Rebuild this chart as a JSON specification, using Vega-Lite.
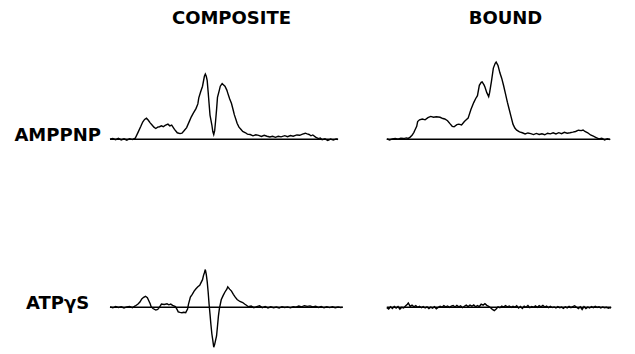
{
  "$schema": "https://vega.github.io/schema/vega-lite/v6.json",
  "padding": {"left": 14, "top": 10, "right": 0, "bottom": 0},
  "background": "white",
  "data": {"values": [
    {"r":"AMPPNP","c":"COMPOSITE","x":0,"y":0},{"r":"AMPPNP","c":"COMPOSITE","x":3,"y":0.8},{"r":"AMPPNP","c":"COMPOSITE","x":6,"y":-0.5},{"r":"AMPPNP","c":"COMPOSITE","x":9,"y":1},{"r":"AMPPNP","c":"COMPOSITE","x":12,"y":-0.8},{"r":"AMPPNP","c":"COMPOSITE","x":15,"y":0.5},{"r":"AMPPNP","c":"COMPOSITE","x":18,"y":-1},{"r":"AMPPNP","c":"COMPOSITE","x":21,"y":0.6},{"r":"AMPPNP","c":"COMPOSITE","x":24,"y":-0.4},{"r":"AMPPNP","c":"COMPOSITE","x":27,"y":1.2},{"r":"AMPPNP","c":"COMPOSITE","x":30,"y":8},{"r":"AMPPNP","c":"COMPOSITE","x":33,"y":15},{"r":"AMPPNP","c":"COMPOSITE","x":35,"y":20},{"r":"AMPPNP","c":"COMPOSITE","x":37,"y":23},{"r":"AMPPNP","c":"COMPOSITE","x":39,"y":24.5},{"r":"AMPPNP","c":"COMPOSITE","x":41,"y":22},{"r":"AMPPNP","c":"COMPOSITE","x":43,"y":19},{"r":"AMPPNP","c":"COMPOSITE","x":45,"y":16.5},{"r":"AMPPNP","c":"COMPOSITE","x":47,"y":14},{"r":"AMPPNP","c":"COMPOSITE","x":49,"y":12.5},{"r":"AMPPNP","c":"COMPOSITE","x":51,"y":14},{"r":"AMPPNP","c":"COMPOSITE","x":53,"y":14.5},{"r":"AMPPNP","c":"COMPOSITE","x":55,"y":15.5},{"r":"AMPPNP","c":"COMPOSITE","x":57,"y":14.5},{"r":"AMPPNP","c":"COMPOSITE","x":59,"y":16},{"r":"AMPPNP","c":"COMPOSITE","x":62,"y":17.5},{"r":"AMPPNP","c":"COMPOSITE","x":64,"y":15.5},{"r":"AMPPNP","c":"COMPOSITE","x":66,"y":16.5},{"r":"AMPPNP","c":"COMPOSITE","x":69,"y":11.5},{"r":"AMPPNP","c":"COMPOSITE","x":72,"y":7.5},{"r":"AMPPNP","c":"COMPOSITE","x":75,"y":6.5},{"r":"AMPPNP","c":"COMPOSITE","x":77,"y":7},{"r":"AMPPNP","c":"COMPOSITE","x":79,"y":9.5},{"r":"AMPPNP","c":"COMPOSITE","x":82,"y":13.5},{"r":"AMPPNP","c":"COMPOSITE","x":85,"y":21},{"r":"AMPPNP","c":"COMPOSITE","x":87,"y":26},{"r":"AMPPNP","c":"COMPOSITE","x":89,"y":30},{"r":"AMPPNP","c":"COMPOSITE","x":92,"y":35.5},{"r":"AMPPNP","c":"COMPOSITE","x":94,"y":41},{"r":"AMPPNP","c":"COMPOSITE","x":95,"y":48},{"r":"AMPPNP","c":"COMPOSITE","x":97,"y":55},{"r":"AMPPNP","c":"COMPOSITE","x":99,"y":61.5},{"r":"AMPPNP","c":"COMPOSITE","x":101,"y":73},{"r":"AMPPNP","c":"COMPOSITE","x":102,"y":75.5},{"r":"AMPPNP","c":"COMPOSITE","x":103,"y":73},{"r":"AMPPNP","c":"COMPOSITE","x":104,"y":68},{"r":"AMPPNP","c":"COMPOSITE","x":105,"y":55},{"r":"AMPPNP","c":"COMPOSITE","x":106,"y":41.5},{"r":"AMPPNP","c":"COMPOSITE","x":107,"y":28},{"r":"AMPPNP","c":"COMPOSITE","x":109,"y":16.5},{"r":"AMPPNP","c":"COMPOSITE","x":110,"y":9},{"r":"AMPPNP","c":"COMPOSITE","x":111,"y":5.5},{"r":"AMPPNP","c":"COMPOSITE","x":112,"y":10},{"r":"AMPPNP","c":"COMPOSITE","x":113,"y":21.5},{"r":"AMPPNP","c":"COMPOSITE","x":114,"y":34},{"r":"AMPPNP","c":"COMPOSITE","x":115,"y":48.5},{"r":"AMPPNP","c":"COMPOSITE","x":117,"y":57},{"r":"AMPPNP","c":"COMPOSITE","x":118,"y":61.5},{"r":"AMPPNP","c":"COMPOSITE","x":120,"y":64.5},{"r":"AMPPNP","c":"COMPOSITE","x":121,"y":63.5},{"r":"AMPPNP","c":"COMPOSITE","x":123,"y":61.5},{"r":"AMPPNP","c":"COMPOSITE","x":125,"y":57},{"r":"AMPPNP","c":"COMPOSITE","x":126,"y":53.5},{"r":"AMPPNP","c":"COMPOSITE","x":128,"y":47},{"r":"AMPPNP","c":"COMPOSITE","x":130,"y":41.5},{"r":"AMPPNP","c":"COMPOSITE","x":132,"y":33},{"r":"AMPPNP","c":"COMPOSITE","x":133,"y":28.5},{"r":"AMPPNP","c":"COMPOSITE","x":135,"y":22},{"r":"AMPPNP","c":"COMPOSITE","x":136,"y":18.5},{"r":"AMPPNP","c":"COMPOSITE","x":138,"y":14},{"r":"AMPPNP","c":"COMPOSITE","x":140,"y":11.5},{"r":"AMPPNP","c":"COMPOSITE","x":142,"y":9},{"r":"AMPPNP","c":"COMPOSITE","x":145,"y":7.5},{"r":"AMPPNP","c":"COMPOSITE","x":147,"y":6},{"r":"AMPPNP","c":"COMPOSITE","x":150,"y":5.5},{"r":"AMPPNP","c":"COMPOSITE","x":153,"y":4},{"r":"AMPPNP","c":"COMPOSITE","x":156,"y":5.2},{"r":"AMPPNP","c":"COMPOSITE","x":159,"y":4.5},{"r":"AMPPNP","c":"COMPOSITE","x":162,"y":3.2},{"r":"AMPPNP","c":"COMPOSITE","x":165,"y":4.6},{"r":"AMPPNP","c":"COMPOSITE","x":168,"y":3.5},{"r":"AMPPNP","c":"COMPOSITE","x":171,"y":2.6},{"r":"AMPPNP","c":"COMPOSITE","x":174,"y":3.4},{"r":"AMPPNP","c":"COMPOSITE","x":177,"y":2.2},{"r":"AMPPNP","c":"COMPOSITE","x":180,"y":3.5},{"r":"AMPPNP","c":"COMPOSITE","x":183,"y":2.8},{"r":"AMPPNP","c":"COMPOSITE","x":187,"y":4.2},{"r":"AMPPNP","c":"COMPOSITE","x":190,"y":3},{"r":"AMPPNP","c":"COMPOSITE","x":193,"y":4.3},{"r":"AMPPNP","c":"COMPOSITE","x":196,"y":3.5},{"r":"AMPPNP","c":"COMPOSITE","x":200,"y":5},{"r":"AMPPNP","c":"COMPOSITE","x":203,"y":4.6},{"r":"AMPPNP","c":"COMPOSITE","x":206,"y":6},{"r":"AMPPNP","c":"COMPOSITE","x":209,"y":7},{"r":"AMPPNP","c":"COMPOSITE","x":211,"y":6.2},{"r":"AMPPNP","c":"COMPOSITE","x":213,"y":5.5},{"r":"AMPPNP","c":"COMPOSITE","x":215,"y":4},{"r":"AMPPNP","c":"COMPOSITE","x":217,"y":5},{"r":"AMPPNP","c":"COMPOSITE","x":220,"y":2.5},{"r":"AMPPNP","c":"COMPOSITE","x":223,"y":0.8},{"r":"AMPPNP","c":"COMPOSITE","x":225,"y":1.5},{"r":"AMPPNP","c":"COMPOSITE","x":227,"y":-0.5},{"r":"AMPPNP","c":"COMPOSITE","x":230,"y":0.5},{"r":"AMPPNP","c":"COMPOSITE","x":233,"y":-1.5},{"r":"AMPPNP","c":"COMPOSITE","x":236,"y":0.2},{"r":"AMPPNP","c":"COMPOSITE","x":239,"y":-1},{"r":"AMPPNP","c":"COMPOSITE","x":242,"y":0.4},{"r":"AMPPNP","c":"COMPOSITE","x":244,"y":-0.3},
    {"r":"AMPPNP","c":"BOUND","x":3,"y":0.4},{"r":"AMPPNP","c":"BOUND","x":6,"y":-0.8},{"r":"AMPPNP","c":"BOUND","x":9,"y":0.5},{"r":"AMPPNP","c":"BOUND","x":12,"y":1},{"r":"AMPPNP","c":"BOUND","x":15,"y":0},{"r":"AMPPNP","c":"BOUND","x":18,"y":1.3},{"r":"AMPPNP","c":"BOUND","x":21,"y":0.8},{"r":"AMPPNP","c":"BOUND","x":24,"y":1.6},{"r":"AMPPNP","c":"BOUND","x":26,"y":1},{"r":"AMPPNP","c":"BOUND","x":28,"y":2.5},{"r":"AMPPNP","c":"BOUND","x":30,"y":4.5},{"r":"AMPPNP","c":"BOUND","x":32,"y":8},{"r":"AMPPNP","c":"BOUND","x":33,"y":10.5},{"r":"AMPPNP","c":"BOUND","x":35,"y":15},{"r":"AMPPNP","c":"BOUND","x":36,"y":20.5},{"r":"AMPPNP","c":"BOUND","x":38,"y":22.5},{"r":"AMPPNP","c":"BOUND","x":41,"y":23.5},{"r":"AMPPNP","c":"BOUND","x":44,"y":22.5},{"r":"AMPPNP","c":"BOUND","x":47,"y":25},{"r":"AMPPNP","c":"BOUND","x":50,"y":26.5},{"r":"AMPPNP","c":"BOUND","x":53,"y":25.5},{"r":"AMPPNP","c":"BOUND","x":56,"y":26},{"r":"AMPPNP","c":"BOUND","x":60,"y":25.5},{"r":"AMPPNP","c":"BOUND","x":63,"y":24},{"r":"AMPPNP","c":"BOUND","x":65,"y":23.5},{"r":"AMPPNP","c":"BOUND","x":68,"y":21.5},{"r":"AMPPNP","c":"BOUND","x":71,"y":17.5},{"r":"AMPPNP","c":"BOUND","x":73,"y":15},{"r":"AMPPNP","c":"BOUND","x":75,"y":14.5},{"r":"AMPPNP","c":"BOUND","x":78,"y":17},{"r":"AMPPNP","c":"BOUND","x":80,"y":17.5},{"r":"AMPPNP","c":"BOUND","x":83,"y":16.5},{"r":"AMPPNP","c":"BOUND","x":86,"y":20.5},{"r":"AMPPNP","c":"BOUND","x":88,"y":22.5},{"r":"AMPPNP","c":"BOUND","x":90,"y":24.5},{"r":"AMPPNP","c":"BOUND","x":93,"y":34.5},{"r":"AMPPNP","c":"BOUND","x":96,"y":42.5},{"r":"AMPPNP","c":"BOUND","x":98,"y":47},{"r":"AMPPNP","c":"BOUND","x":100,"y":50.5},{"r":"AMPPNP","c":"BOUND","x":102,"y":62.5},{"r":"AMPPNP","c":"BOUND","x":104,"y":66},{"r":"AMPPNP","c":"BOUND","x":105,"y":66.5},{"r":"AMPPNP","c":"BOUND","x":107,"y":63},{"r":"AMPPNP","c":"BOUND","x":108,"y":60.5},{"r":"AMPPNP","c":"BOUND","x":110,"y":54},{"r":"AMPPNP","c":"BOUND","x":112,"y":49.5},{"r":"AMPPNP","c":"BOUND","x":113,"y":54},{"r":"AMPPNP","c":"BOUND","x":115,"y":67.5},{"r":"AMPPNP","c":"BOUND","x":117,"y":82.5},{"r":"AMPPNP","c":"BOUND","x":119,"y":88},{"r":"AMPPNP","c":"BOUND","x":120,"y":89.5},{"r":"AMPPNP","c":"BOUND","x":122,"y":85.5},{"r":"AMPPNP","c":"BOUND","x":124,"y":77},{"r":"AMPPNP","c":"BOUND","x":126,"y":70.5},{"r":"AMPPNP","c":"BOUND","x":128,"y":62},{"r":"AMPPNP","c":"BOUND","x":130,"y":52.5},{"r":"AMPPNP","c":"BOUND","x":132,"y":43},{"r":"AMPPNP","c":"BOUND","x":134,"y":34.5},{"r":"AMPPNP","c":"BOUND","x":136,"y":26},{"r":"AMPPNP","c":"BOUND","x":138,"y":17.5},{"r":"AMPPNP","c":"BOUND","x":140,"y":13},{"r":"AMPPNP","c":"BOUND","x":142,"y":10.5},{"r":"AMPPNP","c":"BOUND","x":145,"y":8.5},{"r":"AMPPNP","c":"BOUND","x":148,"y":7.5},{"r":"AMPPNP","c":"BOUND","x":151,"y":6.2},{"r":"AMPPNP","c":"BOUND","x":154,"y":7.3},{"r":"AMPPNP","c":"BOUND","x":157,"y":6.5},{"r":"AMPPNP","c":"BOUND","x":160,"y":5.4},{"r":"AMPPNP","c":"BOUND","x":163,"y":6.8},{"r":"AMPPNP","c":"BOUND","x":166,"y":5.6},{"r":"AMPPNP","c":"BOUND","x":169,"y":6.4},{"r":"AMPPNP","c":"BOUND","x":172,"y":5.2},{"r":"AMPPNP","c":"BOUND","x":175,"y":7},{"r":"AMPPNP","c":"BOUND","x":178,"y":6.3},{"r":"AMPPNP","c":"BOUND","x":181,"y":7.5},{"r":"AMPPNP","c":"BOUND","x":184,"y":6.2},{"r":"AMPPNP","c":"BOUND","x":187,"y":7.6},{"r":"AMPPNP","c":"BOUND","x":190,"y":6.5},{"r":"AMPPNP","c":"BOUND","x":193,"y":8},{"r":"AMPPNP","c":"BOUND","x":196,"y":7},{"r":"AMPPNP","c":"BOUND","x":199,"y":7.5},{"r":"AMPPNP","c":"BOUND","x":202,"y":8.2},{"r":"AMPPNP","c":"BOUND","x":205,"y":9},{"r":"AMPPNP","c":"BOUND","x":208,"y":10.5},{"r":"AMPPNP","c":"BOUND","x":211,"y":10},{"r":"AMPPNP","c":"BOUND","x":213,"y":10.7},{"r":"AMPPNP","c":"BOUND","x":215,"y":9},{"r":"AMPPNP","c":"BOUND","x":218,"y":7.5},{"r":"AMPPNP","c":"BOUND","x":221,"y":5},{"r":"AMPPNP","c":"BOUND","x":224,"y":3.5},{"r":"AMPPNP","c":"BOUND","x":227,"y":2},{"r":"AMPPNP","c":"BOUND","x":230,"y":0.5},{"r":"AMPPNP","c":"BOUND","x":233,"y":1.2},{"r":"AMPPNP","c":"BOUND","x":236,"y":-0.8},{"r":"AMPPNP","c":"BOUND","x":239,"y":0.5},{"r":"AMPPNP","c":"BOUND","x":242,"y":-0.5},
    {"r":"ATPγS","c":"COMPOSITE","x":0,"y":0.5},{"r":"ATPγS","c":"COMPOSITE","x":3,"y":-0.6},{"r":"ATPγS","c":"COMPOSITE","x":6,"y":0.8},{"r":"ATPγS","c":"COMPOSITE","x":9,"y":-0.3},{"r":"ATPγS","c":"COMPOSITE","x":12,"y":0.6},{"r":"ATPγS","c":"COMPOSITE","x":15,"y":-0.8},{"r":"ATPγS","c":"COMPOSITE","x":18,"y":0.4},{"r":"ATPγS","c":"COMPOSITE","x":21,"y":0.9},{"r":"ATPγS","c":"COMPOSITE","x":24,"y":-0.5},{"r":"ATPγS","c":"COMPOSITE","x":27,"y":1.5},{"r":"ATPγS","c":"COMPOSITE","x":30,"y":3.7},{"r":"ATPγS","c":"COMPOSITE","x":32,"y":6},{"r":"ATPγS","c":"COMPOSITE","x":34,"y":9.7},{"r":"ATPγS","c":"COMPOSITE","x":36,"y":11.5},{"r":"ATPγS","c":"COMPOSITE","x":38,"y":12.7},{"r":"ATPγS","c":"COMPOSITE","x":40,"y":11},{"r":"ATPγS","c":"COMPOSITE","x":41,"y":8.7},{"r":"ATPγS","c":"COMPOSITE","x":43,"y":4},{"r":"ATPγS","c":"COMPOSITE","x":44,"y":0.7},{"r":"ATPγS","c":"COMPOSITE","x":46,"y":-1.5},{"r":"ATPγS","c":"COMPOSITE","x":49,"y":-3.3},{"r":"ATPγS","c":"COMPOSITE","x":51,"y":-2.5},{"r":"ATPγS","c":"COMPOSITE","x":52,"y":-1.3},{"r":"ATPγS","c":"COMPOSITE","x":54,"y":2},{"r":"ATPγS","c":"COMPOSITE","x":55,"y":3.7},{"r":"ATPγS","c":"COMPOSITE","x":58,"y":3.2},{"r":"ATPγS","c":"COMPOSITE","x":61,"y":4},{"r":"ATPγS","c":"COMPOSITE","x":63,"y":2.8},{"r":"ATPγS","c":"COMPOSITE","x":65,"y":3.7},{"r":"ATPγS","c":"COMPOSITE","x":67,"y":2.2},{"r":"ATPγS","c":"COMPOSITE","x":70,"y":0.7},{"r":"ATPγS","c":"COMPOSITE","x":72,"y":-3},{"r":"ATPγS","c":"COMPOSITE","x":73,"y":-5.3},{"r":"ATPγS","c":"COMPOSITE","x":75,"y":-6},{"r":"ATPγS","c":"COMPOSITE","x":77,"y":-6.3},{"r":"ATPγS","c":"COMPOSITE","x":79,"y":-5.8},{"r":"ATPγS","c":"COMPOSITE","x":81,"y":-6.3},{"r":"ATPγS","c":"COMPOSITE","x":83,"y":-2},{"r":"ATPγS","c":"COMPOSITE","x":84,"y":3.7},{"r":"ATPγS","c":"COMPOSITE","x":86,"y":11.7},{"r":"ATPγS","c":"COMPOSITE","x":88,"y":15},{"r":"ATPγS","c":"COMPOSITE","x":90,"y":18.7},{"r":"ATPγS","c":"COMPOSITE","x":92,"y":21.5},{"r":"ATPγS","c":"COMPOSITE","x":94,"y":23.7},{"r":"ATPγS","c":"COMPOSITE","x":96,"y":25.5},{"r":"ATPγS","c":"COMPOSITE","x":97,"y":27.7},{"r":"ATPγS","c":"COMPOSITE","x":99,"y":32},{"r":"ATPγS","c":"COMPOSITE","x":100,"y":36.7},{"r":"ATPγS","c":"COMPOSITE","x":101,"y":40},{"r":"ATPγS","c":"COMPOSITE","x":102,"y":43.7},{"r":"ATPγS","c":"COMPOSITE","x":103,"y":38},{"r":"ATPγS","c":"COMPOSITE","x":104,"y":29.7},{"r":"ATPγS","c":"COMPOSITE","x":105,"y":18},{"r":"ATPγS","c":"COMPOSITE","x":106,"y":3.7},{"r":"ATPγS","c":"COMPOSITE","x":107,"y":-8},{"r":"ATPγS","c":"COMPOSITE","x":108,"y":-20.3},{"r":"ATPγS","c":"COMPOSITE","x":109,"y":-31},{"r":"ATPγS","c":"COMPOSITE","x":110,"y":-38.3},{"r":"ATPγS","c":"COMPOSITE","x":111,"y":-46.3},{"r":"ATPγS","c":"COMPOSITE","x":112,"y":-43},{"r":"ATPγS","c":"COMPOSITE","x":113,"y":-38},{"r":"ATPγS","c":"COMPOSITE","x":114,"y":-33.3},{"r":"ATPγS","c":"COMPOSITE","x":115,"y":-22},{"r":"ATPγS","c":"COMPOSITE","x":116,"y":-10.3},{"r":"ATPγS","c":"COMPOSITE","x":117,"y":-2},{"r":"ATPγS","c":"COMPOSITE","x":119,"y":8.7},{"r":"ATPγS","c":"COMPOSITE","x":121,"y":13.5},{"r":"ATPγS","c":"COMPOSITE","x":123,"y":17.7},{"r":"ATPγS","c":"COMPOSITE","x":125,"y":21},{"r":"ATPγS","c":"COMPOSITE","x":126,"y":23.7},{"r":"ATPγS","c":"COMPOSITE","x":128,"y":21},{"r":"ATPγS","c":"COMPOSITE","x":130,"y":18.7},{"r":"ATPγS","c":"COMPOSITE","x":132,"y":15},{"r":"ATPγS","c":"COMPOSITE","x":134,"y":11.7},{"r":"ATPγS","c":"COMPOSITE","x":136,"y":9},{"r":"ATPγS","c":"COMPOSITE","x":139,"y":6.7},{"r":"ATPγS","c":"COMPOSITE","x":142,"y":5.5},{"r":"ATPγS","c":"COMPOSITE","x":144,"y":3.7},{"r":"ATPγS","c":"COMPOSITE","x":146,"y":2.3},{"r":"ATPγS","c":"COMPOSITE","x":148,"y":0.6},{"r":"ATPγS","c":"COMPOSITE","x":151,"y":1.4},{"r":"ATPγS","c":"COMPOSITE","x":154,"y":-0.5},{"r":"ATPγS","c":"COMPOSITE","x":157,"y":0.8},{"r":"ATPγS","c":"COMPOSITE","x":160,"y":1.6},{"r":"ATPγS","c":"COMPOSITE","x":163,"y":-0.4},{"r":"ATPγS","c":"COMPOSITE","x":166,"y":0.9},{"r":"ATPγS","c":"COMPOSITE","x":169,"y":-0.8},{"r":"ATPγS","c":"COMPOSITE","x":172,"y":0.5},{"r":"ATPγS","c":"COMPOSITE","x":175,"y":-0.5},{"r":"ATPγS","c":"COMPOSITE","x":178,"y":0.3},{"r":"ATPγS","c":"COMPOSITE","x":181,"y":-0.9},{"r":"ATPγS","c":"COMPOSITE","x":184,"y":0.6},{"r":"ATPγS","c":"COMPOSITE","x":187,"y":-0.3},{"r":"ATPγS","c":"COMPOSITE","x":190,"y":0.4},{"r":"ATPγS","c":"COMPOSITE","x":193,"y":-0.7},{"r":"ATPγS","c":"COMPOSITE","x":196,"y":0.5},{"r":"ATPγS","c":"COMPOSITE","x":199,"y":0.2},{"r":"ATPγS","c":"COMPOSITE","x":202,"y":1.4},{"r":"ATPγS","c":"COMPOSITE","x":205,"y":0.5},{"r":"ATPγS","c":"COMPOSITE","x":208,"y":1.8},{"r":"ATPγS","c":"COMPOSITE","x":211,"y":1},{"r":"ATPγS","c":"COMPOSITE","x":214,"y":1.6},{"r":"ATPγS","c":"COMPOSITE","x":217,"y":0.4},{"r":"ATPγS","c":"COMPOSITE","x":220,"y":1.1},{"r":"ATPγS","c":"COMPOSITE","x":223,"y":-0.3},{"r":"ATPγS","c":"COMPOSITE","x":226,"y":0.8},{"r":"ATPγS","c":"COMPOSITE","x":229,"y":-0.6},{"r":"ATPγS","c":"COMPOSITE","x":232,"y":0.5},{"r":"ATPγS","c":"COMPOSITE","x":235,"y":-0.4},{"r":"ATPγS","c":"COMPOSITE","x":238,"y":0.6},{"r":"ATPγS","c":"COMPOSITE","x":241,"y":-0.5},{"r":"ATPγS","c":"COMPOSITE","x":244,"y":0.3},{"r":"ATPγS","c":"COMPOSITE","x":247,"y":-0.4},{"r":"ATPγS","c":"COMPOSITE","x":249,"y":0.2},
    {"r":"ATPγS","c":"BOUND","x":3,"y":-0.5},{"r":"ATPγS","c":"BOUND","x":5,"y":-2},{"r":"ATPγS","c":"BOUND","x":7,"y":0.5},{"r":"ATPγS","c":"BOUND","x":9,"y":-1.5},{"r":"ATPγS","c":"BOUND","x":11,"y":1},{"r":"ATPγS","c":"BOUND","x":13,"y":-1},{"r":"ATPγS","c":"BOUND","x":15,"y":0.8},{"r":"ATPγS","c":"BOUND","x":17,"y":-2.2},{"r":"ATPγS","c":"BOUND","x":19,"y":0},{"r":"ATPγS","c":"BOUND","x":21,"y":-0.8},{"r":"ATPγS","c":"BOUND","x":23,"y":1.5},{"r":"ATPγS","c":"BOUND","x":25,"y":3.5},{"r":"ATPγS","c":"BOUND","x":26,"y":5},{"r":"ATPγS","c":"BOUND","x":28,"y":1},{"r":"ATPγS","c":"BOUND","x":30,"y":2.5},{"r":"ATPγS","c":"BOUND","x":32,"y":0.5},{"r":"ATPγS","c":"BOUND","x":34,"y":1.8},{"r":"ATPγS","c":"BOUND","x":36,"y":0},{"r":"ATPγS","c":"BOUND","x":38,"y":1.2},{"r":"ATPγS","c":"BOUND","x":40,"y":-0.5},{"r":"ATPγS","c":"BOUND","x":42,"y":0.8},{"r":"ATPγS","c":"BOUND","x":44,"y":-0.8},{"r":"ATPγS","c":"BOUND","x":46,"y":0.5},{"r":"ATPγS","c":"BOUND","x":48,"y":-1.5},{"r":"ATPγS","c":"BOUND","x":50,"y":0.2},{"r":"ATPγS","c":"BOUND","x":52,"y":-1},{"r":"ATPγS","c":"BOUND","x":54,"y":0.6},{"r":"ATPγS","c":"BOUND","x":56,"y":-1.8},{"r":"ATPγS","c":"BOUND","x":58,"y":-0.2},{"r":"ATPγS","c":"BOUND","x":60,"y":1},{"r":"ATPγS","c":"BOUND","x":62,"y":0},{"r":"ATPγS","c":"BOUND","x":64,"y":1.8},{"r":"ATPγS","c":"BOUND","x":66,"y":0.5},{"r":"ATPγS","c":"BOUND","x":68,"y":1.5},{"r":"ATPγS","c":"BOUND","x":70,"y":-0.2},{"r":"ATPγS","c":"BOUND","x":72,"y":1.2},{"r":"ATPγS","c":"BOUND","x":74,"y":2},{"r":"ATPγS","c":"BOUND","x":76,"y":0.2},{"r":"ATPγS","c":"BOUND","x":78,"y":2.2},{"r":"ATPγS","c":"BOUND","x":80,"y":0.5},{"r":"ATPγS","c":"BOUND","x":82,"y":1.6},{"r":"ATPγS","c":"BOUND","x":84,"y":-0.5},{"r":"ATPγS","c":"BOUND","x":86,"y":1.2},{"r":"ATPγS","c":"BOUND","x":88,"y":2.5},{"r":"ATPγS","c":"BOUND","x":90,"y":0.8},{"r":"ATPγS","c":"BOUND","x":92,"y":2.4},{"r":"ATPγS","c":"BOUND","x":94,"y":1.2},{"r":"ATPγS","c":"BOUND","x":96,"y":2.8},{"r":"ATPγS","c":"BOUND","x":98,"y":0.5},{"r":"ATPγS","c":"BOUND","x":100,"y":2},{"r":"ATPγS","c":"BOUND","x":102,"y":0.8},{"r":"ATPγS","c":"BOUND","x":104,"y":3.5},{"r":"ATPγS","c":"BOUND","x":106,"y":2.5},{"r":"ATPγS","c":"BOUND","x":108,"y":4.2},{"r":"ATPγS","c":"BOUND","x":110,"y":2.2},{"r":"ATPγS","c":"BOUND","x":112,"y":1},{"r":"ATPγS","c":"BOUND","x":114,"y":-0.5},{"r":"ATPγS","c":"BOUND","x":116,"y":-2.5},{"r":"ATPγS","c":"BOUND","x":118,"y":-4},{"r":"ATPγS","c":"BOUND","x":120,"y":-2},{"r":"ATPγS","c":"BOUND","x":122,"y":0.5},{"r":"ATPγS","c":"BOUND","x":124,"y":-0.5},{"r":"ATPγS","c":"BOUND","x":126,"y":1.4},{"r":"ATPγS","c":"BOUND","x":128,"y":0.2},{"r":"ATPγS","c":"BOUND","x":130,"y":1.8},{"r":"ATPγS","c":"BOUND","x":132,"y":0.5},{"r":"ATPγS","c":"BOUND","x":134,"y":1.5},{"r":"ATPγS","c":"BOUND","x":136,"y":-0.2},{"r":"ATPγS","c":"BOUND","x":138,"y":1},{"r":"ATPγS","c":"BOUND","x":140,"y":0},{"r":"ATPγS","c":"BOUND","x":142,"y":1.8},{"r":"ATPγS","c":"BOUND","x":144,"y":-1},{"r":"ATPγS","c":"BOUND","x":146,"y":0.8},{"r":"ATPγS","c":"BOUND","x":148,"y":-1.5},{"r":"ATPγS","c":"BOUND","x":150,"y":1.2},{"r":"ATPγS","c":"BOUND","x":152,"y":0},{"r":"ATPγS","c":"BOUND","x":154,"y":2},{"r":"ATPγS","c":"BOUND","x":156,"y":-0.5},{"r":"ATPγS","c":"BOUND","x":158,"y":0.8},{"r":"ATPγS","c":"BOUND","x":160,"y":0},{"r":"ATPγS","c":"BOUND","x":162,"y":1.5},{"r":"ATPγS","c":"BOUND","x":164,"y":-0.2},{"r":"ATPγS","c":"BOUND","x":166,"y":1.8},{"r":"ATPγS","c":"BOUND","x":168,"y":0.5},{"r":"ATPγS","c":"BOUND","x":170,"y":2.2},{"r":"ATPγS","c":"BOUND","x":172,"y":0.2},{"r":"ATPγS","c":"BOUND","x":174,"y":1.4},{"r":"ATPγS","c":"BOUND","x":176,"y":-0.5},{"r":"ATPγS","c":"BOUND","x":178,"y":1},{"r":"ATPγS","c":"BOUND","x":180,"y":-0.4},{"r":"ATPγS","c":"BOUND","x":182,"y":0.4},{"r":"ATPγS","c":"BOUND","x":184,"y":-0.8},{"r":"ATPγS","c":"BOUND","x":186,"y":0.8},{"r":"ATPγS","c":"BOUND","x":188,"y":-0.5},{"r":"ATPγS","c":"BOUND","x":190,"y":0.2},{"r":"ATPγS","c":"BOUND","x":192,"y":-1.2},{"r":"ATPγS","c":"BOUND","x":194,"y":0.5},{"r":"ATPγS","c":"BOUND","x":196,"y":-0.7},{"r":"ATPγS","c":"BOUND","x":198,"y":1},{"r":"ATPγS","c":"BOUND","x":200,"y":-0.5},{"r":"ATPγS","c":"BOUND","x":202,"y":0.8},{"r":"ATPγS","c":"BOUND","x":204,"y":1.8},{"r":"ATPγS","c":"BOUND","x":206,"y":0},{"r":"ATPγS","c":"BOUND","x":208,"y":-1.5},{"r":"ATPγS","c":"BOUND","x":210,"y":0.5},{"r":"ATPγS","c":"BOUND","x":212,"y":-2.5},{"r":"ATPγS","c":"BOUND","x":214,"y":0.8},{"r":"ATPγS","c":"BOUND","x":216,"y":-1.5},{"r":"ATPγS","c":"BOUND","x":218,"y":0.2},{"r":"ATPγS","c":"BOUND","x":220,"y":-0.8},{"r":"ATPγS","c":"BOUND","x":222,"y":0.8},{"r":"ATPγS","c":"BOUND","x":224,"y":-0.5},{"r":"ATPγS","c":"BOUND","x":226,"y":1},{"r":"ATPγS","c":"BOUND","x":228,"y":-0.2},{"r":"ATPγS","c":"BOUND","x":230,"y":0.5},{"r":"ATPγS","c":"BOUND","x":232,"y":-0.8},{"r":"ATPγS","c":"BOUND","x":234,"y":0.3},{"r":"ATPγS","c":"BOUND","x":236,"y":-0.5},{"r":"ATPγS","c":"BOUND","x":238,"y":0},{"r":"ATPγS","c":"BOUND","x":240,"y":-1.2},{"r":"ATPγS","c":"BOUND","x":242,"y":-0.4},{"r":"ATPγS","c":"BOUND","x":243,"y":-1}
  ]},
  "facet": {
    "row": {"field": "r", "type": "nominal", "sort": ["AMPPNP", "ATPγS"], "title": null, "header": {"labels": false}},
    "column": {"field": "c", "type": "nominal", "sort": ["COMPOSITE", "BOUND"], "title": null,
      "header": {"labelFont": "DejaVu Sans", "labelFontWeight": "bold", "labelFontSize": 18, "labelColor": "black", "labelPadding": 25}}
  },
  "spacing": {"row": 30, "column": 31},
  "spec": {
    "width": 243,
    "height": 138,
    "layer": [
      {
        "transform": [{"aggregate": [{"op": "min", "field": "x", "as": "x0"}, {"op": "max", "field": "x", "as": "x1"}], "groupby": ["r", "c"]}],
        "mark": {"type": "rule", "color": "black", "strokeWidth": 1.6},
        "encoding": {
          "x": {"field": "x0", "type": "quantitative", "scale": {"domain": [0, 243]}, "axis": null},
          "x2": {"field": "x1"},
          "y": {"datum": 0, "type": "quantitative", "scale": {"domain": [-47, 91]}, "axis": null}
        }
      },
      {
        "mark": {"type": "line", "color": "black", "strokeWidth": 1.4},
        "encoding": {
          "x": {"field": "x", "type": "quantitative", "scale": {"domain": [0, 243]}, "axis": null},
          "y": {"field": "y", "type": "quantitative", "scale": {"domain": [-47, 91]}, "axis": null}
        }
      },
      {
        "transform": [{"filter": "datum.c === 'COMPOSITE'"}, {"aggregate": [{"op": "count", "as": "n"}], "groupby": ["r", "c"]}],
        "mark": {"type": "text", "font": "DejaVu Sans", "fontWeight": "bold", "fontSize": 18, "color": "black", "align": "center", "baseline": "middle"},
        "encoding": {
          "text": {"field": "r", "type": "nominal"},
          "x": {"datum": -56, "type": "quantitative"},
          "y": {"datum": 3.5, "type": "quantitative"}
        }
      }
    ]
  },
  "config": {"view": {"stroke": null}}
}
